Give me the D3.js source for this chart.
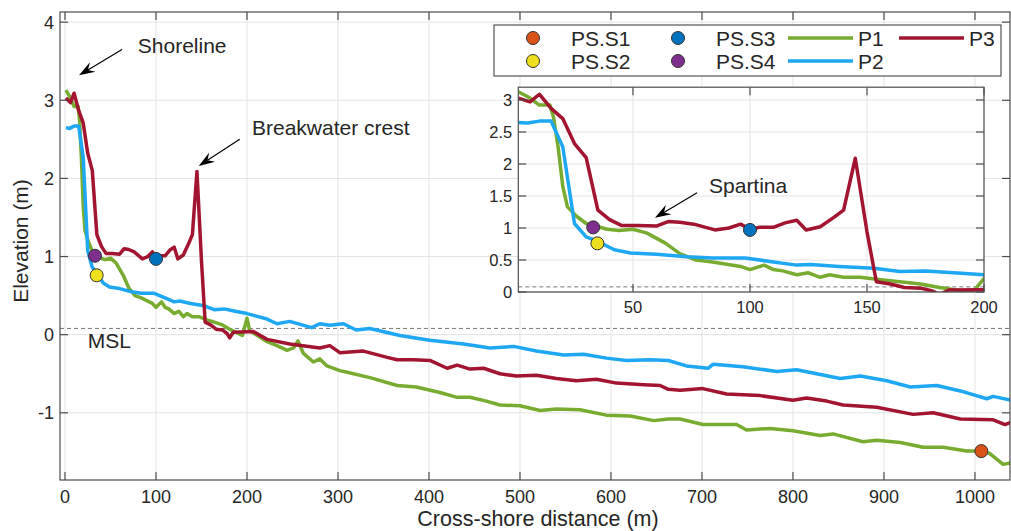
<!DOCTYPE html>
<html>
<head>
<meta charset="utf-8">
<script src="https://cdn.jsdelivr.net/npm/d3@7"></script>
<style>
  body { margin: 0; background: #fff; }
  text { font-family: "Liberation Sans", Arial, sans-serif; fill: #262626; }
</style>
</head>
<body>
<div id="vis"></div>
<script>
// Beach profiles, each point is [cross-shore distance (m), elevation (m)]
var profileP1 = [[1,3.13],[6,3.03],[10,2.92],[14.5,2.92],[16,2.74],[18,2.27],[20,1.65],[22,1.33],[26,1.18],[30,1.07],
  [39,0.98],[44,0.96],[50,0.98],[56,0.92],[64,0.76],[70,0.60],[77,0.50],[84,0.47],[96,0.40],[100,0.35],[106,0.42],
  [110,0.35],[114,0.33],[120,0.27],[125,0.30],[130,0.23],[134,0.27],[140,0.23],[147,0.23],[156,0.19],[164,0.16],
  [173,0.125],[181,0.07],[188,0.03],[195,-0.01],[200,0.21],[203,0.05],[214,-0.03],[222,-0.09],[233,-0.14],[244,-0.20],
  [251,-0.17],[256,-0.08],[262,-0.24],[273,-0.35],[280,-0.31],[288,-0.40],[302,-0.46],[310,-0.48],[335,-0.55],
  [365,-0.65],[386,-0.67],[412,-0.74],[430,-0.80],[445,-0.80],[463,-0.85],[478,-0.90],[500,-0.91],[522,-0.97],
  [540,-0.95],[566,-0.96],[595,-1.03],[621,-1.04],[647,-1.10],[663,-1.08],[676,-1.08],[701,-1.15],[720,-1.15],
  [738,-1.15],[749,-1.22],[775,-1.20],[800,-1.23],[830,-1.29],[844,-1.27],[877,-1.37],[892,-1.35],[918,-1.38],
  [943,-1.44],[965,-1.44],[991,-1.49],[1007,-1.49],[1016,-1.52],[1031,-1.66],[1040,-1.64]];

var profileP2 = [[1,2.65],[5,2.64],[10,2.67],[15,2.67],[20,2.27],[25,1.07],[30,0.86],[35,0.79],[42,0.66],[49,0.61],
  [60,0.59],[73,0.55],[84,0.53],[98,0.53],[110,0.47],[120,0.42],[126,0.43],[138,0.40],[153,0.37],[164,0.32],
  [175,0.33],[187,0.30],[200,0.27],[222,0.20],[233,0.14],[247,0.17],[271,0.09],[280,0.14],[291,0.12],[306,0.14],
  [320,0.06],[335,0.08],[368,-0.01],[401,-0.07],[438,-0.12],[467,-0.17],[493,-0.15],[518,-0.21],[548,-0.26],
  [570,-0.25],[595,-0.30],[617,-0.33],[643,-0.32],[663,-0.33],[683,-0.40],[707,-0.43],[712,-0.38],[745,-0.41],
  [782,-0.47],[804,-0.45],[826,-0.50],[852,-0.56],[874,-0.53],[903,-0.59],[929,-0.67],[958,-0.65],[984,-0.72],
  [1013,-0.82],[1020,-0.79],[1040,-0.84]];

var profileP3 = [[1,3.03],[6,2.97],[10,3.09],[15,2.87],[20,2.71],[25,2.32],[30,2.10],[35,1.28],[40,1.13],[45,1.04],
  [52,1.04],[60,1.03],[65,1.10],[70,1.09],[76,1.06],[85,0.97],[91,1.00],[96,1.06],[100,0.98],[104,1.01],[110,1.01],
  [115,1.08],[120,1.12],[124,0.97],[130,1.02],[136,1.17],[140,1.28],[145,2.09],[150,0.94],[154,0.16],[160,0.125],
  [166,0.07],[173,0.06],[178,0.015],[181,-0.04],[185,0.03],[207,0.04],[222,-0.06],[247,-0.12],[280,-0.17],
  [291,-0.14],[302,-0.23],[328,-0.21],[354,-0.29],[365,-0.32],[383,-0.32],[401,-0.33],[420,-0.43],[431,-0.39],
  [445,-0.44],[460,-0.43],[478,-0.50],[496,-0.53],[518,-0.52],[540,-0.56],[562,-0.59],[584,-0.57],[606,-0.62],
  [636,-0.64],[654,-0.65],[663,-0.70],[676,-0.71],[701,-0.69],[727,-0.76],[764,-0.78],[800,-0.84],[815,-0.81],
  [837,-0.85],[855,-0.90],[892,-0.93],[932,-1.02],[954,-1.00],[984,-1.08],[1020,-1.09],[1033,-1.15],[1040,-1.12]];

var profileNames = ["P1", "P2", "P3"];
var profileColors = ["#77AC30", "#1EA7F2", "#A2142F"];

// Sampling stations
var stationNames = ["PS.S1", "PS.S2", "PS.S3", "PS.S4"];
var stationDist = [1007, 34.8, 100, 33];
var stationElev = [-1.49, 0.76, 0.97, 1.01];
var stationColors = ["#D95319", "#EEE01E", "#0072BD", "#7E2F8E"];

var mainXTicks = [0, 100, 200, 300, 400, 500, 600, 700, 800, 900, 1000];
var mainYTicks = [-1, 0, 1, 2, 3, 4];
var insetXTicks = [50, 100, 150, 200];
var insetYTicks = [0, 0.5, 1, 1.5, 2, 2.5, 3];
var mslLevel = 0.08;

var width = 1011, height = 531;
var svg = d3.select("#vis").append("svg")
  .attr("width", width)
  .attr("height", height);

// main axes
var x = d3.scaleLinear().domain([-5.5, 1038.5]).range([60, 1010]);
var y = d3.scaleLinear().domain([-1.86, 4.13]).range([480, 12]);
// inset axes
var xi = d3.scaleLinear().domain([1, 200]).range([518.3, 984]);
var yi = d3.scaleLinear().domain([0, 3.2]).range([292, 87.2]);

var profiles = [profileP1, profileP2, profileP3];
var stations = stationNames.map((n, i) => ({name: n, d: stationDist[i], e: stationElev[i], color: stationColors[i]}));

// Draws grid, data, box and inward ticks for one set of axes
function drawPanel(id, sx, sy, xTicks, yTicks, fontSize) {
  var x0 = sx.range()[0], x1 = sx.range()[1];
  var y0 = sy.range()[1], y1 = sy.range()[0];
  var g = svg.append("g");

  svg.append("clipPath").attr("id", id + "clip")
    .append("rect").attr("x", x0).attr("y", y0).attr("width", x1 - x0).attr("height", y1 - y0);

  g.append("rect").attr("x", x0).attr("y", y0).attr("width", x1 - x0).attr("height", y1 - y0)
    .attr("fill", "#fff");

  // grid
  g.append("g").selectAll("line").data(xTicks).enter().append("line")
    .attr("x1", d => sx(d)).attr("x2", d => sx(d)).attr("y1", y0).attr("y2", y1)
    .attr("stroke", "#e3e3e3").attr("stroke-width", 1);
  g.append("g").selectAll("line").data(yTicks).enter().append("line")
    .attr("x1", x0).attr("x2", x1).attr("y1", d => sy(d)).attr("y2", d => sy(d))
    .attr("stroke", "#e3e3e3").attr("stroke-width", 1);

  var plot = g.append("g").attr("clip-path", "url(#" + id + "clip)");

  // mean sea level
  plot.append("line")
    .attr("x1", x0).attr("x2", x1).attr("y1", sy(mslLevel)).attr("y2", sy(mslLevel))
    .attr("stroke", "#777").attr("stroke-width", 1).attr("stroke-dasharray", "4,3");

  var line = d3.line().x(d => sx(d[0])).y(d => sy(d[1]));
  plot.selectAll("path.profile").data(profiles).enter().append("path")
    .attr("class", "profile")
    .attr("d", line)
    .attr("fill", "none")
    .attr("stroke", (d, i) => profileColors[i])
    .attr("stroke-width", 3.5)
    .attr("stroke-linejoin", "round");

  plot.selectAll("circle").data(stations).enter().append("circle")
    .attr("cx", d => sx(d.d)).attr("cy", d => sy(d.e)).attr("r", 6.5)
    .attr("fill", d => d.color).attr("stroke", "#333").attr("stroke-width", 1);

  // box with inward ticks on all four sides
  var tick = 8;
  var axisColor = "#4d4d4d";
  g.append("rect").attr("x", x0).attr("y", y0).attr("width", x1 - x0).attr("height", y1 - y0)
    .attr("fill", "none").attr("stroke", axisColor).attr("stroke-width", 1.2);
  var tk = g.append("g").attr("stroke", axisColor).attr("stroke-width", 1.2);
  xTicks.forEach(t => {
    tk.append("line").attr("x1", sx(t)).attr("x2", sx(t)).attr("y1", y1).attr("y2", y1 - tick);
    tk.append("line").attr("x1", sx(t)).attr("x2", sx(t)).attr("y1", y0).attr("y2", y0 + tick);
  });
  yTicks.forEach(t => {
    tk.append("line").attr("x1", x0).attr("x2", x0 + tick).attr("y1", sy(t)).attr("y2", sy(t));
    tk.append("line").attr("x1", x1).attr("x2", x1 - tick).attr("y1", sy(t)).attr("y2", sy(t));
  });

  g.append("g").selectAll("text").data(xTicks).enter().append("text")
    .attr("x", d => sx(d)).attr("y", y1 + fontSize * 1.3)
    .attr("text-anchor", "middle").style("font-size", fontSize + "px")
    .text(d => d);
  g.append("g").selectAll("text").data(yTicks).enter().append("text")
    .attr("x", x0 - 6).attr("y", d => sy(d)).attr("dy", "0.36em")
    .attr("text-anchor", "end").style("font-size", fontSize + "px")
    .text(d => d);
  return g;
}

// arrow with a swept filled head, tail -> tip, in pixels
function arrow(tx, ty, hx, hy) {
  var dx = hx - tx, dy = hy - ty, len = Math.sqrt(dx * dx + dy * dy);
  var ux = dx / len, uy = dy / len, px = -uy, py = ux;
  var L = 16, W = 11;
  var bx = hx - ux * L, by = hy - uy * L;
  var nx = hx - ux * L * 0.65, ny = hy - uy * L * 0.65;
  svg.append("line").attr("x1", tx).attr("y1", ty).attr("x2", nx).attr("y2", ny)
    .attr("stroke", "#000").attr("stroke-width", 1.2);
  svg.append("polygon")
    .attr("points", [[hx, hy], [bx + px * W / 2, by + py * W / 2], [nx, ny], [bx - px * W / 2, by - py * W / 2]].join(" "))
    .attr("fill", "#000");
}

drawPanel("main", x, y, mainXTicks, mainYTicks, 18);

// annotations on main axes
svg.append("text").attr("x", x(80)).attr("y", y(3.70)).attr("dy", "0.36em")
  .style("font-size", "21px").text("Shoreline");
arrow(x(62.6), y(3.65), x(15.4), y(3.32));
svg.append("text").attr("x", x(205.5)).attr("y", y(2.65)).attr("dy", "0.36em")
  .style("font-size", "21px").text("Breakwater crest");
arrow(x(192), y(2.50), x(147), y(2.16));
svg.append("text").attr("x", x(25)).attr("y", y(-0.07)).attr("dy", "0.36em")
  .style("font-size", "21px").text("MSL");

// axis labels
svg.append("text").attr("transform", "translate(20,241) rotate(-90)")
  .attr("text-anchor", "middle").attr("dy", "0.36em").style("font-size", "21px").text("Elevation (m)");
svg.append("text").attr("x", 538).attr("y", 526)
  .attr("text-anchor", "middle").style("font-size", "21.5px").text("Cross-shore distance (m)");

// inset zoom on first 200 m
drawPanel("inset", xi, yi, insetXTicks, insetYTicks, 16.5);
svg.append("text").attr("x", xi(82.5)).attr("y", yi(1.67)).attr("dy", "0.36em")
  .style("font-size", "21px").text("Spartina");
arrow(xi(77.4), yi(1.55), xi(59.4), yi(1.16));

// legend
var legend = svg.append("g");
legend.append("rect").attr("x", 494).attr("y", 25).attr("width", 507).attr("height", 51)
  .attr("fill", "#fff").attr("stroke", "#333").attr("stroke-width", 1);
var rows = [38, 61];
stations.forEach((s, i) => {
  var cx = i < 2 ? 533 : 678;
  var cy = rows[i % 2];
  legend.append("circle").attr("cx", cx).attr("cy", cy).attr("r", 6.5)
    .attr("fill", s.color).attr("stroke", "#333").attr("stroke-width", 1);
  legend.append("text").attr("x", cx + 38).attr("y", cy).attr("dy", "0.36em")
    .style("font-size", "21px").text(s.name);
});
var lineSlots = [[788, 38], [788, 61], [899, 38]];
profileNames.forEach((n, i) => {
  var sx = lineSlots[i][0], sy = lineSlots[i][1];
  legend.append("line").attr("x1", sx).attr("x2", sx + 65).attr("y1", sy).attr("y2", sy)
    .attr("stroke", profileColors[i]).attr("stroke-width", 3.5);
  legend.append("text").attr("x", sx + 70).attr("y", sy).attr("dy", "0.36em")
    .style("font-size", "21px").text(n);
});
</script>
</body>
</html>
